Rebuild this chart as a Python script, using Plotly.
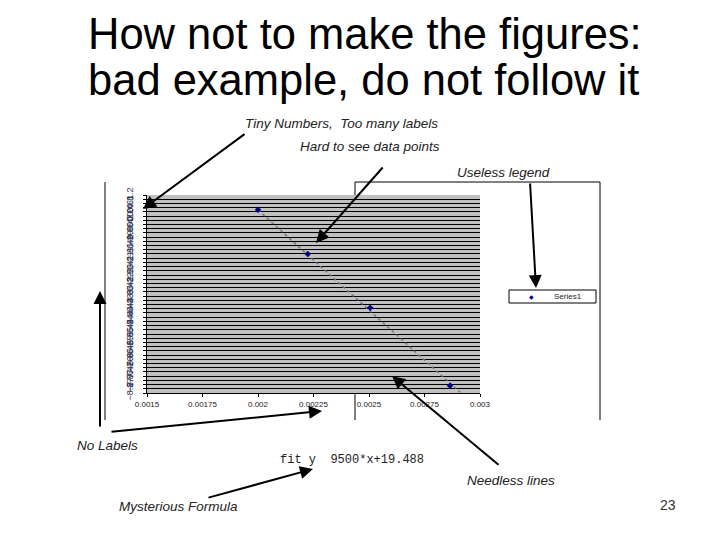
import plotly.graph_objects as go

W, H = 720, 540
OFF = 8  # page body margin offset of the rendered figure

# ---- data ----
series_name = "Series1"
series_x = [0.002, 0.002224, 0.002505, 0.002865]
series_y = [0.5, -1.6, -4.15, -7.85]
trend_x = [0.002, 0.00291]
trend_y = [0.49, -8.16]
x_tick_vals = [0.0015, 0.00175, 0.002, 0.00225, 0.0025, 0.00275, 0.003]
x_tick_text = ["0.0015", "0.00175", "0.002", "0.00225", "0.0025", "0.00275", "0.003"]
y_min, y_max, y_step = -8.2, 1.2, 0.2

title_lines = ["How not to make the figures:", "bad example, do not follow it"]
notes = ["Tiny Numbers,  Too many labels", "Hard to see data points", "Useless legend",
         "No Labels", "Needless lines", "Mysterious Formula"]
formula_text = "fit y  9500*x+19.488"
page_no = "23"


def px(x):
    return (x - OFF) / W


def py(y):
    return 1 - (y - OFF) / H


fig = go.Figure()
fig.add_trace(go.Scatter(x=trend_x, y=trend_y, mode="lines",
                         line=dict(color="#707088", width=1.5, dash="dot"),
                         showlegend=False, hoverinfo="skip"))
fig.add_trace(go.Scatter(x=series_x, y=series_y, mode="markers", name=series_name,
                         showlegend=False,
                         marker=dict(symbol="diamond", size=5, color="#000080")))

annotations = []
# slide title
for i, t in enumerate(title_lines):
    annotations.append(dict(text=t, x=px(86), y=py(34 + 46 * i), xref="paper", yref="paper",
                            xanchor="left", yanchor="middle", showarrow=False,
                            font=dict(family="Liberation Sans, Arial", size=43.5, color="black")))

note_font = dict(family="Liberation Sans, Arial", size=13.5, color="#222222")
note_pos = [(243, 124), (298, 146), (455, 172), (75, 445), (465, 480), (117, 506)]
for t, (x0, y0) in zip(notes, note_pos):
    annotations.append(dict(text="<i>" + t + "</i>", x=px(x0), y=py(y0), xref="paper", yref="paper",
                            xanchor="left", yanchor="middle", showarrow=False, font=note_font))

annotations.append(dict(text=formula_text, x=px(278), y=py(460), xref="paper", yref="paper",
                        xanchor="left", yanchor="middle", showarrow=False,
                        font=dict(family="Liberation Mono, Courier New", size=12, color="#222222")))
annotations.append(dict(text=page_no, x=px(678), y=py(505), xref="paper", yref="paper",
                        xanchor="right", yanchor="middle", showarrow=False,
                        font=dict(family="Liberation Sans, Arial", size=14, color="#333333")))

# small hand-made legend box (Excel style)
annotations.append(dict(text="\u25c6", x=px(531), y=py(296.5), xref="paper", yref="paper",
                        xanchor="center", yanchor="middle", showarrow=False,
                        font=dict(family="DejaVu Sans", size=6, color="#000080")))
annotations.append(dict(text=series_name, x=px(552), y=py(296.5), xref="paper", yref="paper",
                        xanchor="left", yanchor="middle", showarrow=False,
                        font=dict(family="Liberation Sans, Arial", size=8, color="#222222")))

# arrows: (tail, head) in pixels
arrows = [((246, 133), (143, 209)),
          ((384, 166), (316, 243)),
          ((530, 182), (536, 288)),
          ((500, 466), (392, 376)),
          ((100, 428), (100, 291)),
          ((110, 432), (322, 411)),
          ((207, 498), (313, 469))]
for (tx, ty), (hx, hy) in arrows:
    annotations.append(dict(text="", x=px(hx), y=py(hy), xref="paper", yref="paper",
                            ax=tx - hx, ay=ty - hy, axref="pixel", ayref="pixel",
                            showarrow=True, arrowhead=2, arrowsize=1.3, arrowwidth=2,
                            arrowcolor="black"))

line = dict(color="black", width=1)
shapes = [
    dict(type="line", xref="paper", yref="paper", x0=px(105), x1=px(105), y0=py(182), y1=py(420), line=line),
    dict(type="line", xref="paper", yref="paper", x0=px(355), x1=px(600), y0=py(182), y1=py(182), line=line),
    dict(type="line", xref="paper", yref="paper", x0=px(600), x1=px(600), y0=py(182), y1=py(420), line=line),
    dict(type="line", xref="paper", yref="paper", x0=px(355), x1=px(355), y0=py(182), y1=py(195), line=line),
    dict(type="line", xref="paper", yref="paper", x0=px(355), x1=px(355), y0=py(393), y1=py(420), line=line),
    dict(type="rect", xref="paper", yref="paper", x0=px(509), x1=px(596), y0=py(290), y1=py(303),
         line=line, fillcolor="white"),
]

fig.update_layout(
    template="none",
    width=W, height=H,
    margin=dict(l=0, r=0, t=0, b=0, pad=0, autoexpand=False),
    paper_bgcolor="white",
    plot_bgcolor="#c0c0c0",
    annotations=annotations,
    shapes=shapes,
    showlegend=False,
    xaxis=dict(domain=[px(147), px(480)], range=[x_tick_vals[0], x_tick_vals[-1]],
               tickvals=x_tick_vals, ticktext=x_tick_text, showgrid=False, zeroline=False,
               automargin=False,
               showline=True, linecolor="black", linewidth=1, ticks="outside", ticklen=3,
               tickcolor="black", tickfont=dict(family="Liberation Sans, Arial", size=8, color="#222222")),
    yaxis=dict(domain=[py(393), py(195)], range=[y_min, y_max], dtick=y_step, tick0=0,
               automargin=False,
               showgrid=True, gridcolor="black", gridwidth=1, zeroline=True, zerolinecolor="black",
               zerolinewidth=1, showline=True, linecolor="black", linewidth=1, ticks="outside",
               ticklen=3, tickcolor="black", tickangle=-90, ticklabelstandoff=6,
               tickfont=dict(family="Liberation Sans, Arial", size=9, color="#333355")),
)

fig.write_html("out.html")
